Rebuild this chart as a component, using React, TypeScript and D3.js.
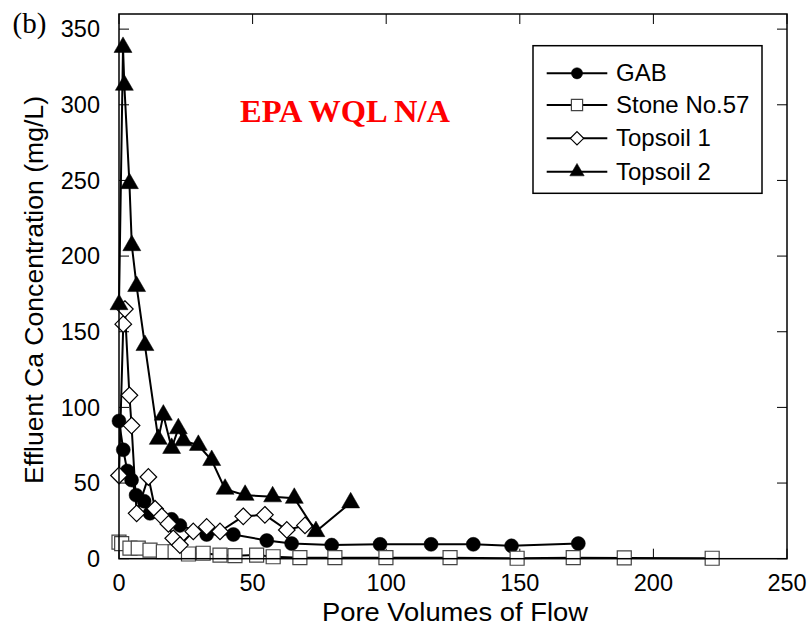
import React from "react";
import * as d3 from "d3";

const xTicks = [0, 50, 100, 150, 200, 250];
const yTicks = [0, 50, 100, 150, 200, 250, 300, 350];

const seriesNames = ["GAB", "Stone No.57", "Topsoil 1", "Topsoil 2"];

const gabPV = [0, 1.6, 3.1, 4.7, 6.4, 9.4, 11.6, 19.7, 22.8, 32.8, 42.8, 55.3, 64.6, 79.6, 97.7, 116.8, 132.6, 146.9, 171.9];
const gabCa = [91, 72, 58, 52, 42, 38, 30, 26, 22, 16, 16, 12, 10, 9, 9.5, 9.5, 9.5, 8.5, 10];

const stonePV = [0, 1, 4.1, 7.2, 11.6, 16.6, 21, 26, 31.5, 37.8, 43.4, 51.5, 57.7, 67.7, 80.8, 99.9, 123.9, 149, 170, 189.1, 222];
const stoneCa = [11, 10, 7, 7, 5.7, 4.6, 4.6, 3.1, 3.6, 2.4, 2, 2.4, 1.3, 0.7, 0.7, 0.7, 0.7, 0.3, 0.7, 0.5, 0.3];

const top1PV = [0, 1.6, 2.2, 3.9, 4.7, 6.6, 11, 13.5, 16, 18.5, 20.3, 22.8, 27.8, 32.8, 37.8, 46.5, 54.6, 62.8, 69.6];
const top1Ca = [55, 155, 165, 108, 88, 30, 54, 33, 28, 23, 13.5, 9, 18, 21, 18, 28, 29, 19, 22];

const top2PV = [0, 1.5, 2, 3.9, 4.8, 6.6, 9.7, 14.7, 16.6, 19.7, 22.2, 24.1, 29.7, 34.7, 39.7, 47.2, 57.5, 65.6, 73.7, 86.7];
const top2Ca = [168, 338, 313, 248, 207, 180, 141, 79, 95, 73, 86, 78, 75, 65, 46, 42, 41, 40, 18, 37];

const W = 812;
const H = 633;
const L = 119, R = 787, T = 14, B = 558.7;

const x = d3.scaleLinear().domain([0, 250]).range([L, R]);
const y = d3.scaleLinear().domain([0, 360]).range([B, T]);

const FONT = "Liberation Sans, Arial, sans-serif";
const SERIF = "Liberation Serif, Times New Roman, serif";

type Kind = "circle" | "square" | "diamond" | "triangle";

function markerPath(kind: Kind, scale: number): string {
  if (kind === "circle") return d3.symbol(d3.symbolCircle, 154 * scale * scale)()!;
  if (kind === "square") return d3.symbol(d3.symbolSquare, 196 * scale * scale)()!;
  if (kind === "triangle") return d3.symbol(d3.symbolTriangle, 140 * scale * scale)()!;
  const r = 8.3 * scale;
  return `M0,${-r}L${r},0L0,${r}L${-r},0Z`;
}

function Marker({ kind, cx, cy, scale = 1 }: { kind: Kind; cx: number; cy: number; scale?: number }) {
  const d = markerPath(kind, scale);
  const filled = kind === "circle" || kind === "triangle";
  return (
    <path
      d={d}
      transform={`translate(${cx},${cy})`}
      fill={filled ? "#000" : "#fff"}
      stroke={filled ? "#000" : kind === "square" ? "#444" : "#000"}
      strokeWidth={filled ? 0.5 : 1.2}
    />
  );
}

const series: { name: string; xs: number[]; ys: number[]; kind: Kind }[] = [
  { name: seriesNames[0], xs: gabPV, ys: gabCa, kind: "circle" },
  { name: seriesNames[1], xs: stonePV, ys: stoneCa, kind: "square" },
  { name: seriesNames[2], xs: top1PV, ys: top1Ca, kind: "diamond" },
  { name: seriesNames[3], xs: top2PV, ys: top2Ca, kind: "triangle" },
];

export default function App() {
  const line = d3
    .line<[number, number]>()
    .x((d) => x(d[0]))
    .y((d) => y(d[1]));

  const legendX = 533, legendY = 45.7, legendW = 229, legendH = 147.6;
  const rowYs = [73.3, 105, 138.3, 171.7];

  return (
    <svg
      width={W}
      height={H}
      style={{ position: "absolute", left: 0, top: 0, background: "#fff" }}
      fontFamily={FONT}
    >
      <rect x={0} y={0} width={W} height={H} fill="#fff" />
      {xTicks.map((t) => (
        <g key={"xt" + t}>
          <line x1={x(t)} x2={x(t)} y1={B} y2={B - 10} stroke="#000" strokeWidth={1} />
          <line x1={x(t)} x2={x(t)} y1={T} y2={T + 10} stroke="#000" strokeWidth={1} />
          <text x={x(t)} y={590.5} textAnchor="middle" fontSize={23.5}>
            {t}
          </text>
        </g>
      ))}
      {yTicks.map((t) => (
        <g key={"yt" + t}>
          <line x1={L} x2={L + 10} y1={y(t)} y2={y(t)} stroke="#000" strokeWidth={1} />
          <line x1={R} x2={R - 10} y1={y(t)} y2={y(t)} stroke="#000" strokeWidth={1} />
          <text x={100} y={y(t) + 8.3} textAnchor="end" fontSize={23.5}>
            {t}
          </text>
        </g>
      ))}
      {series.map((s) => {
        const pts = s.xs.map((v, i) => [v, s.ys[i]] as [number, number]);
        return (
          <g key={s.name}>
            <path d={line(pts)!} fill="none" stroke="#000" strokeWidth={2} />
            {pts.map((p, i) => (
              <Marker key={i} kind={s.kind} cx={x(p[0])} cy={y(p[1])} />
            ))}
          </g>
        );
      })}
      <rect x={L} y={T} width={R - L} height={B - T} fill="none" stroke="#000" strokeWidth={1.5} />
      <rect x={legendX} y={legendY} width={legendW} height={legendH} fill="#fff" stroke="#000" strokeWidth={1.5} />
      {series.map((s, i) => (
        <g key={"lg" + s.name}>
          <line x1={546.7} x2={607.3} y1={rowYs[i]} y2={rowYs[i]} stroke="#000" strokeWidth={2} />
          <Marker kind={s.kind} cx={577} cy={rowYs[i]} scale={0.8} />
          <text x={616} y={rowYs[i] + 8} fontSize={24}>
            {s.name}
          </text>
        </g>
      ))}
      <text x={240} y={121.7} fontFamily={SERIF} fontWeight="bold" fontSize={32.5} fill="#ff0000">
        EPA WQL N/A
      </text>
      <text x={12.5} y={33} fontFamily={SERIF} fontSize={29}>
        (b)
      </text>
      <text x={455} y={621} textAnchor="middle" fontSize={25} textLength={266} lengthAdjust="spacingAndGlyphs">
        Pore Volumes of Flow
      </text>
      <text
        transform={`translate(43,290) rotate(-90)`}
        textAnchor="middle"
        fontSize={25}
        textLength={388}
        lengthAdjust="spacingAndGlyphs"
      >
        Effluent Ca Concentration (mg/L)
      </text>
    </svg>
  );
}
